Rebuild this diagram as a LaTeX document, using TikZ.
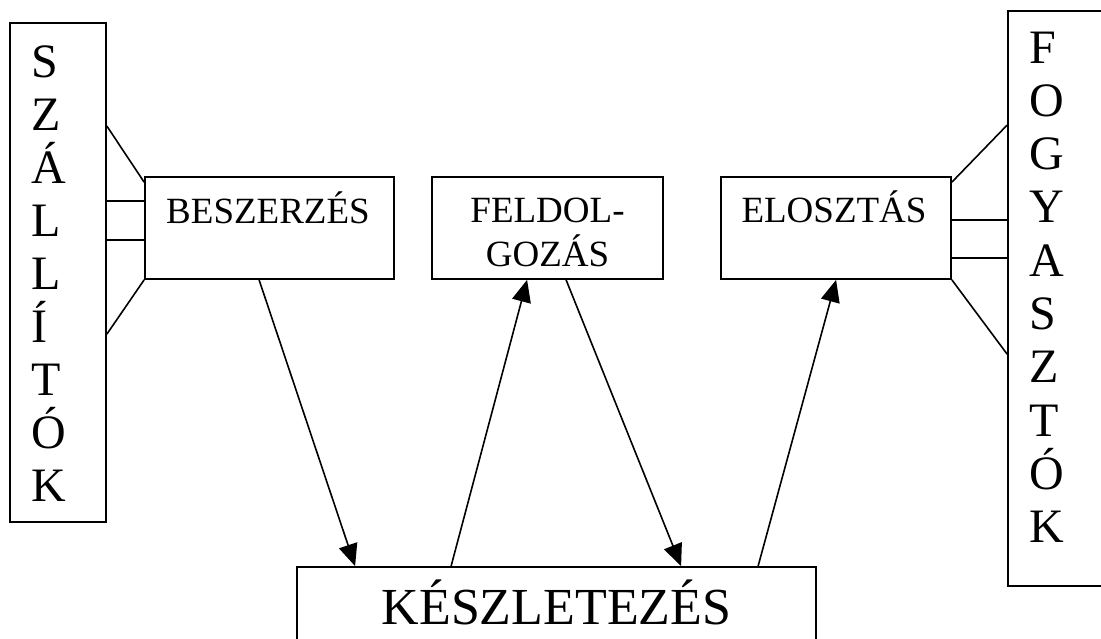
\documentclass[tikz,border=0pt]{standalone}
\usepackage{fontspec}
\setmainfont{Liberation Serif}
\usetikzlibrary{arrows.meta}
\begin{document}
\begin{tikzpicture}[x=1pt,y=-1pt,
  box/.style={draw,line width=1.8pt,inner sep=0pt,rectangle},
  conn/.style={line width=1.6pt},
  arr/.style={line width=1.6pt,-{Triangle[length=22pt,width=19pt]}},
  side/.style={font=\fontsize{48}{53}\selectfont,anchor=base west,inner sep=0pt},
  mid/.style={font=\fontsize{37}{44}\selectfont,anchor=base,inner sep=0pt},
  big/.style={font=\fontsize{52}{60}\selectfont,anchor=base,inner sep=0pt},
]
\clip (0,0) rectangle (1101,638);
\fill[white] (0,0) rectangle (1101,638);
% boxes
\node[box,minimum width=96pt,minimum height=499pt] (szal) at (58,272.5) {};
\node[box,minimum width=112pt,minimum height=575pt] (fogy) at (1064,298.5) {};
\node[box,minimum width=249pt,minimum height=102pt] (besz) at (269.5,228) {};
\node[box,minimum width=231pt,minimum height=102pt] (feld) at (547.5,228) {};
\node[box,minimum width=230pt,minimum height=102pt] (elos) at (836,228) {};
\node[box,minimum width=519pt,minimum height=113pt] (kesz) at (556.5,623.5) {};
% texts
\foreach \l [count=\i from 0] in {S,Z,Á,L,L,Í,T,Ó,K}
  \node[side] (szal-\i) at (31,77+53.1*\i) {\l};
\foreach \l [count=\i from 0] in {F,O,G,Y,A,S,Z,T,Ó,K}
  \node[side] (fogy-\i) at (1029,63+53.3*\i) {\l};
\node[mid] (beszt) at (268,223) {BESZERZÉS};
\node[mid] (feldta) at (547.5,222) {FELDOL-};
\node[mid] (feldtb) at (547.5,266) {GOZÁS};
\node[mid] (elost) at (834,222) {ELOSZTÁS};
\node[big] (keszt) at (556.5,624) {KÉSZLETEZÉS};
% left connectors
\draw[conn] ([yshift=-104pt]szal.north east) -- ([yshift=-6pt]besz.north west);
\draw[conn] ([yshift=-179pt]szal.north east) -- ([yshift=-25pt]besz.north west);
\draw[conn] ([yshift=-218pt]szal.north east) -- ([yshift=-64pt]besz.north west);
\draw[conn] (besz.south west) -- ([yshift=-312pt]szal.north east);
% right connectors
\draw[conn] ([yshift=-6pt]elos.north east) -- ([yshift=-115pt]fogy.north west);
\draw[conn] ([yshift=-44pt]elos.north east) -- ([yshift=-210pt]fogy.north west);
\draw[conn] ([yshift=-82pt]elos.north east) -- ([yshift=-248pt]fogy.north west);
\draw[conn] (elos.south east) -- ([yshift=-344pt]fogy.north west);
% arrows
\draw[arr] ([xshift=115pt]besz.south west) -- ([xshift=59pt]kesz.north west);
\draw[arr] ([xshift=155pt]kesz.north west) -- ([xshift=96pt]feld.south west);
\draw[arr] ([xshift=135pt]feld.south west) -- ([xshift=385pt]kesz.north west);
\draw[arr] ([xshift=462pt]kesz.north west) -- ([xshift=116pt]elos.south west);
\end{tikzpicture}
\end{document}
